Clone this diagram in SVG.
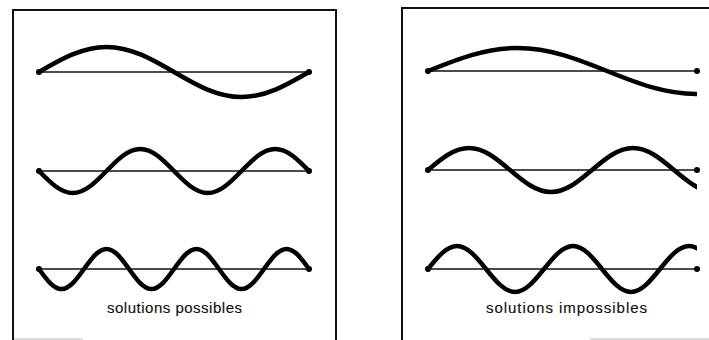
<svg xmlns="http://www.w3.org/2000/svg" width="709" height="340" viewBox="0 0 709 340">
  <style>
    .frame { fill: none; stroke: #111; stroke-width: 2; }
    .faint { fill: none; stroke: #bbb; stroke-width: 1; }
    .axis { fill: none; stroke: #111; stroke-width: 1.3; }
    .wave { fill: none; stroke: #000; stroke-width: 4.5; stroke-linecap: round; stroke-linejoin: round; }
    .dot { fill: #000; }
    .label { font-family: "Liberation Sans", Arial, sans-serif; font-size: 15px; fill: #111; stroke: #111; stroke-width: 0.15; }
  </style>
  <defs>
    <clipPath id="clipR">
      <rect x="410" y="0" width="287" height="340"/>
    </clipPath>
  </defs>
  <rect width="709" height="340" fill="#fff"/>

  <g id="panel-left">
    <path class="frame" d="M13 340 V10 H336 V340"/>
    <path class="faint" d="M14 339 H83"/>
    <g id="left-row1">
      <line class="axis" x1="39" y1="72" x2="309" y2="72"/>
      <path class="wave" d="M39 72 C61.04 59.18, 82.07 47, 106.5 47 S151.96 59.18 174 72 S217.07 97 241.5 97 S286.96 84.82 309 72"/>
      <circle class="dot" cx="39" cy="72" r="3"/>
      <circle class="dot" cx="309" cy="72" r="3"/>
    </g>
    <g id="left-row2">
      <line class="axis" x1="39" y1="171" x2="309" y2="171"/>
      <path class="wave" d="M39 171 C50.02 182.28, 60.54 193, 72.75 193 S95.48 182.28 106.5 171 S128.04 149 140.25 149 S162.98 159.72 174 171 S195.54 193 207.75 193 S230.48 182.28 241.5 171 S263.04 149 275.25 149 S297.98 159.72 309 171"/>
      <circle class="dot" cx="39" cy="171" r="3"/>
      <circle class="dot" cx="309" cy="171" r="3"/>
    </g>
    <g id="left-row3">
      <line class="axis" x1="39" y1="269" x2="309" y2="269"/>
      <path class="wave" d="M39 269 C46.35 279.26, 53.36 289, 61.5 289 S76.65 279.26 84 269 S98.36 249 106.5 249 S121.65 258.74 129 269 S143.36 289 151.5 289 S166.65 279.26 174 269 S188.36 249 196.5 249 S211.65 258.74 219 269 S233.36 289 241.5 289 S256.65 279.26 264 269 S278.36 249 286.5 249 S301.65 258.74 309 269"/>
      <circle class="dot" cx="39" cy="269" r="3"/>
      <circle class="dot" cx="309" cy="269" r="3"/>
    </g>
    <text class="label" x="107" y="313" textLength="135" lengthAdjust="spacing">solutions possibles</text>
  </g>

  <g id="panel-right">
    <path class="frame" d="M402 340 V8 H709"/>
    <path class="faint" d="M590 339 H709"/>
    <g id="right-row1">
      <line class="axis" x1="428" y1="71" x2="697" y2="71"/>
      <path class="wave" clip-path="url(#clipR)" d="M428 71 C457.22 59.21, 485.11 48, 517.5 48 S577.78 59.21 607 71 S664.11 94 696.5 94 L700 94"/>
      <circle class="dot" cx="428" cy="71" r="3"/>
      <circle class="dot" cx="697" cy="71" r="3"/>
    </g>
    <g id="right-row2">
      <line class="axis" x1="428" y1="170" x2="697" y2="170"/>
      <path class="wave" clip-path="url(#clipR)" d="M428 170 C441.39 158.72, 454.16 148, 469 148 S496.61 158.72 510 170 S536.16 192 551 192 S578.61 181.28 592 170 S618.16 148 633 148 S660.61 158.72 674 170 S700.16 192 715 192"/>
      <circle class="dot" cx="428" cy="170" r="3"/>
      <circle class="dot" cx="697" cy="170" r="3"/>
    </g>
    <g id="right-row3">
      <line class="axis" x1="428" y1="269" x2="697" y2="269"/>
      <path class="wave" clip-path="url(#clipR)" d="M428 269 C437.47 257.21, 446.5 246, 457 246 S476.53 257.21 486 269 S504.5 292 515 292 S534.53 280.79 544 269 S562.5 246 573 246 S592.53 257.21 602 269 S620.5 292 631 292 S650.53 280.79 660 269 S678.5 246 689 246 S708.53 257.21 718 269"/>
      <circle class="dot" cx="428" cy="269" r="3"/>
      <circle class="dot" cx="697" cy="269" r="3"/>
    </g>
    <text class="label" x="486" y="313" textLength="161" lengthAdjust="spacing">solutions impossibles</text>
  </g>
</svg>
